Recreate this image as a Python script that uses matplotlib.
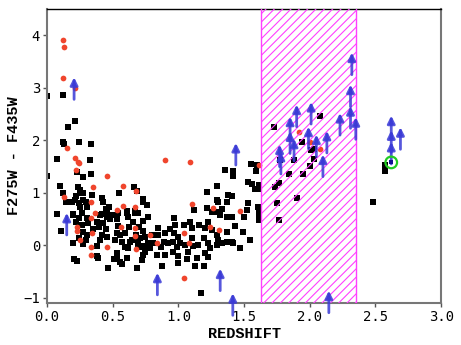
import numpy as np
import matplotlib
matplotlib.use('Agg')
import matplotlib.pyplot as plt

# black squares: redshift, colour
blk_z = [0.0, 0.124, 0.162, 0.216, 0.124, 0.13, 0.244, 0.335, 0.074, 0.328, 0.231, 0.277, 0.335, 0.0,
         0.10, 0.12, 0.145, 0.074, 0.109, 0.188, 0.198, 0.206, 0.231, 0.234, 0.25, 0.22,
         0.272, 0.297, 0.241, 0.267, 0.221, 0.241, 0.302, 0.312, 0.264, 0.277, 0.20, 0.277, 0.241, 0.297,
         0.307, 0.353, 0.378, 0.394, 0.429, 0.449, 0.404, 0.455, 0.48, 0.429, 0.449, 0.416, 0.46, 0.404,
         0.383, 0.383, 0.467, 0.51, 0.535, 0.556, 0.569, 0.607, 0.683, 0.721, 0.53, 0.543, 0.53, 0.556,
         0.518, 0.569, 0.607, 0.627, 0.597, 0.645, 0.619, 0.657, 0.665, 0.683, 0.733, 0.729, 0.696, 0.729,
         0.703, 0.733, 0.708, 0.739, 0.729, 0.696, 0.797, 0.81, 0.836, 0.848,
         0.251, 0.277, 0.34, 0.551, 0.416, 0.213, 0.302, 0.251, 0.475, 0.455, 0.505, 0.2, 0.416, 0.391,
         0.543, 0.619, 0.67, 0.767, 0.97, 1.04, 0.975, 1.09, 1.1, 0.899, 0.937, 0.97, 1.0, 0.962, 1.013,
         0.988, 1.05, 1.1, 1.076, 0.962, 1.0, 0.899, 0.873, 0.772, 0.746, 0.785, 0.746, 0.708, 0.594,
         0.632, 0.53, 0.848, 0.894, 0.924, 0.868, 0.69, 0.675,
         0.759, 0.607, 0.67, 1.12, 0.53,
         1.356, 1.419, 1.419, 1.551, 1.592, 1.533, 1.559, 1.61, 1.61, 1.292, 1.216, 1.381, 1.406, 1.292,
         1.305, 1.373, 1.533, 1.602, 1.221, 1.33, 1.292, 1.254, 1.318, 1.369, 1.406, 1.521, 1.61, 1.61,
         1.61, 1.16, 1.229, 1.203, 1.254, 1.292, 1.369, 1.49, 1.546, 1.369, 1.47, 1.419, 1.305, 1.229,
         1.191, 1.152, 1.114, 1.241, 1.203, 1.229, 1.14, 1.191, 1.127, 1.064, 1.0, 1.17,
         1.597, 1.584, 1.432, 1.406, 1.33, 1.292, 1.5,
         1.724, 1.845, 1.952, 1.88, 1.94, 1.77, 2.074, 2.008, 2.03, 2.03, 2.0, 1.737, 1.762, 1.90, 1.754,
         1.762, 2.575, 2.575, 2.48]
blk_c = [2.85, 2.86, 2.26, 2.36, 1.96, 1.93, 1.97, 1.93, 1.64, 1.62, 1.39, 1.30, 1.36, 1.32,
         1.14, 0.99, 0.82, 0.59, 0.28, 0.82, 0.58, -0.26, -0.30, 1.11, 0.99, 0.94,
         0.87, 0.82, 0.80, 0.61, 0.45, 0.52, 0.52, 0.42, 0.38, 0.26, 0.04, 0.02, 0.14, 0.10,
         0.20, 0.31, 0.45, 0.36, 0.82, 0.69, 0.58, 0.55, 0.50, 0.42, 0.32, 0.20, 0.16, 0.10,
         -0.21, -0.01, -0.43, -0.26, -0.20, -0.31, -0.35, -0.24, -0.43, -0.28, 0.50, 0.37, 0.24, 0.20,
         0.10, 0.07, 0.62, 0.36, 0.23, 0.10, -0.05, 0.45, 1.12, 1.03, 0.88, 0.82, 0.61, 0.47,
         0.36, 0.28, 0.14, -0.01, -0.18, 0.01, 0.20, 0.04, -0.18, 0.33,
         1.06, 0.99, 0.96, 0.99, 0.90, 0.87, 0.74, 0.74, 0.74, 0.64, 0.58, 0.60, 0.60, -0.24,
         0.61, 0.55, 0.61, 0.54, 0.52, 0.39, 0.39, 0.45, 0.33, 0.24, 0.31, 0.23, 0.17, 0.07, 0.04,
         -0.02, 0.01, 0.14, -0.12, -0.12, -0.34, -0.18, -0.40, 0.04, 0.17, -0.05, -0.12, -0.02, -0.02,
         0.07, -0.15, 0.20, 0.07, 0.04, -0.02, 0.07, 0.20,
         0.77, 0.66, 0.66, 0.68, 0.58,
         1.44, 1.41, 1.32, 1.55, 1.41, 1.20, 1.17, 1.15, 1.07, 1.13, 1.02, 0.96, 0.94, 0.87,
         0.83, 0.82, 0.80, 0.74, 0.71, 0.69, 0.64, 0.63, 0.58, 0.55, 0.54, 0.68, 0.64, 0.56,
         0.49, 0.39, 0.45, 0.33, 0.30, 0.20, 0.26, 0.26, 0.10, 0.07, -0.04, 0.05, 0.10, 0.05,
         0.14, 0.01, -0.01, -0.05, -0.15, -0.22, -0.24, -0.39, -0.39, -0.26, -0.21, -0.91,
         1.53, 1.07, 0.37, 0.07, 0.04, 0.01, 0.55,
         2.25, 1.36, 1.36, 1.63, 1.96, 1.63, 2.47, 1.81, 1.83, 1.64, 1.51, 1.12, 1.18, 0.90, 0.80,
         0.49, 1.53, 1.42, 0.82]

# red circles
red_z = [0.12, 0.13, 0.124, 0.216, 0.15, 0.21, 0.234, 0.246, 0.218, 0.455, 0.13, 0.348, 0.337, 0.58,
         0.68, 0.535, 0.576, 0.668, 0.363, 0.337, 0.231, 0.231, 0.249, 0.561, 0.67, 0.67, 0.678, 0.455,
         0.333, 0.337, 0.785, 0.84, 0.34, 0.896, 1.087, 1.61, 1.92, 1.10, 1.264, 1.465, 1.244, 1.31,
         1.04, 1.084, 1.046, 2.08, 2.0]
red_c = [3.91, 3.77, 3.18, 2.99, 1.86, 1.67, 1.58, 1.57, 1.43, 1.32, 0.92, 1.11, 0.83, 1.14,
         1.03, 0.68, 0.76, 0.74, 0.61, 0.52, 0.36, 0.28, 0.11, 0.36, 0.33, 0.18, -0.07, -0.03,
         -0.02, -0.19, 0.20, 0.05, 0.23, 1.62, 1.58, 1.53, 2.16, 0.79, 0.72, 0.65, 0.35, 0.30,
         0.23, 0.04, -0.61, 1.84, 1.96]

# lower limits (arrows)
lim_z = [0.206, 0.15, 0.84, 1.318, 1.414, 1.437, 2.145, 1.77, 1.78, 1.85, 1.85, 1.88, 1.90, 1.99,
         2.01, 2.05, 2.13, 2.10, 2.23, 2.32, 2.31, 2.31, 2.35, 2.62, 2.62, 2.62, 2.69]
lim_c = [2.78, 0.20, -0.94, -0.86, -1.33, 1.53, -1.28, 1.50, 1.36, 2.03, 1.75, 1.61, 2.26, 1.84,
         2.31, 1.69, 1.76, 1.31, 2.10, 3.25, 2.64, 2.23, 2.02, 1.55, 1.77, 2.05, 1.83]

special_z, special_c = 2.62, 1.58
zmin_band, zmax_band = 1.63, 2.35

plt.rcParams['hatch.linewidth'] = 0.8

fig = plt.figure(figsize=(4.61, 3.45), dpi=100)
ax = fig.add_axes([0.102, 0.121, 0.855, 0.853])

ax.scatter(blk_z, blk_c, marker='s', s=13, c='black', linewidths=0, zorder=2)
ax.scatter(red_z, red_c, marker='o', s=17, c='#f0452d', linewidths=0, zorder=3)

ax.axvspan(zmin_band, zmax_band, facecolor='none', edgecolor='#ff40ff', hatch='////', lw=0, zorder=4)
ax.axvline(zmin_band, color='#ff40ff', lw=1, zorder=4)
ax.axvline(zmax_band, color='#ff40ff', lw=1, zorder=4)

for z, c in zip(lim_z, lim_c):
    ax.annotate('', xy=(z, c + 0.42), xytext=(z, c),
                arrowprops=dict(arrowstyle='-|>', color='#3a3ad6', lw=2, alpha=0.85,
                                mutation_scale=11, shrinkA=0, shrinkB=0), zorder=5)

ax.scatter([special_z], [special_c], marker='s', s=12, c='#101090', linewidths=0, zorder=6)
ax.scatter([special_z], [special_c], marker='o', s=70, facecolors='none', edgecolors='#22cc22',
           linewidths=1.6, zorder=6)

ax.set_xlim(0, 3)
ax.set_ylim(-1.1, 4.5)
ax.set_xticks([0.0, 0.5, 1.0, 1.5, 2.0, 2.5, 3.0])
ax.set_xticklabels(['0.0', '0.5', '1.0', '1.5', '2.0', '2.5', '3.0'])
ax.set_yticks([-1, 0, 1, 2, 3, 4])
ax.tick_params(direction='out', length=3, width=1, color='#555555', labelsize=10, pad=2)
for lab in ax.get_xticklabels() + ax.get_yticklabels():
    lab.set_family('DejaVu Sans Mono')

for side in ['left', 'bottom', 'right']:
    ax.spines[side].set_color('#777777')
    ax.spines[side].set_linewidth(1.5)
ax.spines['top'].set_color('black')
ax.spines['top'].set_linewidth(1)

ax.set_xlabel('REDSHIFT', family='Liberation Mono', weight='bold', fontsize=11, labelpad=2)
ax.set_ylabel('F275W - F435W', family='Liberation Mono', weight='bold', fontsize=11, labelpad=2)

fig.savefig('out.png', dpi=100)
